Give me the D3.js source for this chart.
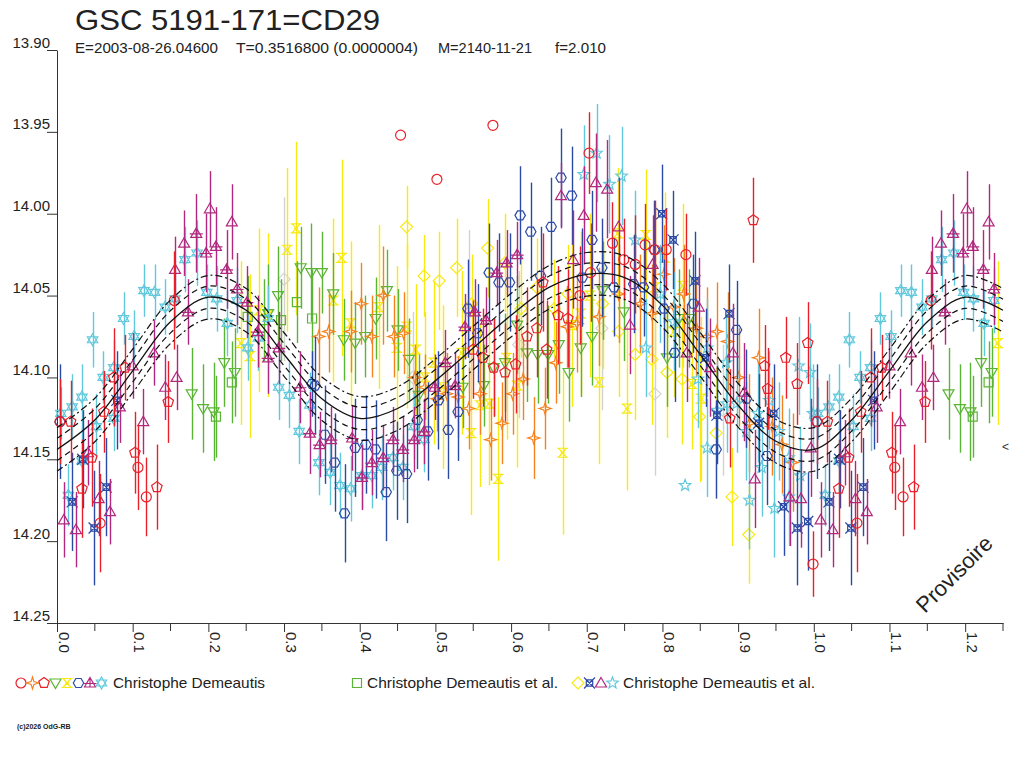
<!DOCTYPE html>
<html>
<head>
<meta charset="utf-8">
<script src="https://cdn.jsdelivr.net/npm/d3@7"></script>
<style>
  body{ margin:0; background:#fff; }
  svg{ display:block; }
</style>
</head>
<body>
<svg id="chart" width="1024" height="768"></svg>
<script>
/* ===== GSC 5191-171=CD29 — phase diagram (phase, mag, err) ===== */

const TITLE    = "GSC 5191-171=CD29";
const SUBTITLE = ["E=2003-08-26.04600", "T=0.3516800 (0.0000004)", "M=2140-11-21", "f=2.010"];
const LEGEND_LABELS = ["Christophe Demeautis", "Christophe Demeautis et al.", "Christophe Demeautis et al."];

const X_TICKS = [0.0,0.1,0.2,0.3,0.4,0.5,0.6,0.7,0.8,0.9,1.0,1.1,1.2];
const X_MINOR = [0.05,0.15,0.25,0.35,0.45,0.55,0.65,0.75,0.85,0.95,1.05,1.15,1.25];
const Y_TICKS = [13.90,13.95,14.00,14.05,14.10,14.15,14.20,14.25];

// fitted light curve (phase, mag) + envelope offsets
const FIT_CURVE = [
  [0.00,14.144],[0.05,14.126],[0.10,14.096],[0.15,14.066],[0.20,14.051],[0.25,14.059],
  [0.30,14.086],[0.35,14.113],[0.40,14.125],[0.45,14.119],[0.50,14.102],[0.55,14.082],
  [0.60,14.062],[0.65,14.045],[0.70,14.037],[0.75,14.039],[0.80,14.056],[0.85,14.086],
  [0.90,14.117],[0.95,14.139],[1.00,14.144]
];
const FIT_DASH_OFFSET    = 0.0068;
const FIT_DASHDOT_OFFSET = 0.0133;

/* ---------- observations: [phase, mag, err] ---------- */
// group 1 — Christophe Demeautis
const redCircle = [
  [0.004,14.127,0.026],[0.057,14.189,0.03],[0.107,14.155,0.026],[0.118,14.173,0.024],[0.155,14.053,0.03],
  [0.454,13.952,0],[0.502,13.979,0],[0.576,13.946,0],
  [0.691,14.050,0.03],[0.703,13.963,0.025],[0.705,14.036,0.03],[0.734,14.018,0.025],[0.749,14.028,0.025],
  [0.764,14.031,0.03],[0.777,14.019,0.025],[0.790,14.022,0.03],[0.805,14.022,0.025],[0.831,14.025,0.025],
  [0.999,14.214,0.02]
];
const orangeStar = [
  [0.346,14.075,0.03],[0.359,14.072,0.025],[0.388,14.072,0.025],[0.402,14.055,0.025],[0.416,14.075,0.025],
  [0.431,14.050,0.03],[0.445,14.075,0.025],[0.458,14.073,0.025],[0.473,14.100,0.02],[0.486,14.106,0.02],
  [0.502,14.113,0.02],[0.515,14.110,0.025],[0.530,14.112,0.025],[0.544,14.119,0.025],[0.559,14.110,0.025],
  [0.573,14.138,0.025],[0.588,14.128,0.025],[0.602,14.110,0.025],[0.616,14.101,0.025],[0.630,14.137,0.025],
  [0.645,14.119,0.025],[0.659,14.091,0.025],[0.674,14.069,0.025],[0.687,14.067,0.03],[0.716,14.063,0.03],
  [0.742,14.049,0.03],[0.771,14.055,0.03],[0.786,14.061,0.03],[0.802,14.037,0.03],[0.815,14.057,0.03],
  [0.828,14.049,0.03],[0.845,14.070,0.03],[0.859,14.075,0.03],[0.872,14.072,0.03],[0.886,14.078,0.03],
  [0.901,14.100,0.03],[0.915,14.128,0.03],[0.927,14.088,0.03],[0.945,14.130,0.03],[0.958,14.141,0.03],
  [0.972,14.152,0.03]
];
const redPentagon = [
  [0.018,14.127,0.025],[0.033,14.168,0.03],[0.046,14.149,0.03],[0.062,14.121,0.025],[0.075,14.100,0.03],
  [0.090,14.094,0.02],[0.103,14.146,0.025],[0.132,14.167,0.026],[0.147,14.115,0.025],
  [0.550,14.083,0.03],[0.563,14.088,0.03],[0.577,14.094,0.03],[0.592,14.097,0.03],[0.606,14.092,0.03],
  [0.621,14.075,0.03],[0.634,14.070,0.03],[0.642,14.042,0.03],[0.647,14.083,0.03],[0.662,14.062,0.03],
  [0.675,14.064,0.03],[0.889,14.125,0.03],[0.920,14.004,0.026],[0.935,14.093,0.025],[0.939,14.107,0.025],
  [0.963,14.088,0.025],[0.978,14.104,0.025],[0.992,14.079,0.025]
];
const greenTriDown = [
  [0.178,14.110,0.028],[0.193,14.119,0.027],[0.207,14.121,0.03],[0.221,14.091,0.027],[0.235,14.097,0.027],
  [0.279,14.061,0.03],[0.292,14.050,0.03],[0.322,14.033,0.025],[0.336,14.036,0.03],[0.350,14.036,0.025],
  [0.365,14.049,0.025],[0.379,14.077,0.025],[0.394,14.079,0.025],[0.407,14.075,0.025],[0.421,14.064,0.025],
  [0.436,14.047,0.025],[0.450,14.071,0.025],[0.465,14.089,0.025],[0.478,14.111,0.025],[0.536,14.106,0.025],
  [0.564,14.105,0.025],[0.577,14.094,0.03],[0.592,14.091,0.03],[0.608,14.068,0.03],[0.621,14.085,0.03],
  [0.635,14.086,0.03],[0.649,14.086,0.03],[0.663,14.080,0.03],[0.676,14.097,0.03],[0.692,14.082,0.03],
  [0.707,14.075,0.03],[0.721,14.047,0.03],[0.749,14.060,0.03],[0.806,14.088,0.03],[0.822,14.064,0.03],
  [0.835,14.064,0.03]
];
const yellowHourglass = [
  [0.243,14.079,0.05],[0.255,14.087,0.05],[0.267,14.059,0.05],[0.279,14.062,0.05],[0.304,14.022,0.05],
  [0.316,14.009,0.053],[0.365,14.053,0.05],[0.376,14.027,0.06],[0.388,14.067,0.05],[0.425,14.057,0.05],
  [0.449,14.082,0.05],[0.462,14.069,0.05],[0.474,14.083,0.04],[0.486,14.100,0.04],[0.498,14.091,0.05],
  [0.510,14.106,0.05],[0.535,14.085,0.05],[0.547,14.134,0.05],[0.559,14.117,0.05],[0.571,14.116,0.05],
  [0.583,14.162,0.05],[0.594,14.088,0.05],[0.608,14.105,0.05],[0.668,14.146,0.05],[0.680,14.068,0.05],
  [0.692,14.061,0.05],[0.704,14.050,0.05],[0.716,14.103,0.05],[0.741,14.012,0.04],[0.753,14.119,0.05],
  [0.778,14.013,0.04],[0.790,14.045,0.05],[0.803,14.027,0.04],[0.815,14.072,0.04],[0.827,14.044,0.05],
  [0.839,14.104,0.04],[0.851,14.113,0.05]
];
const blueHex = [
  [0.004,14.127,0.035],[0.337,14.104,0.02],[0.341,14.105,0.03],[0.354,14.135,0.03],[0.367,14.152,0.03],
  [0.380,14.183,0.03],[0.394,14.143,0.03],[0.408,14.141,0.03],[0.421,14.144,0.03],[0.435,14.170,0.03],
  [0.449,14.157,0.03],[0.462,14.159,0.03],[0.476,14.126,0.03],[0.490,14.133,0.03],[0.504,14.114,0.03],
  [0.517,14.132,0.03],[0.530,14.121,0.03],[0.543,14.058,0.03],[0.556,14.073,0.03],[0.571,14.036,0.03],
  [0.584,14.042,0.03],[0.598,14.042,0.03],[0.612,14.001,0.03],[0.626,14.011,0.03],[0.639,14.038,0.03],
  [0.653,14.008,0.03],[0.666,13.978,0.03],[0.680,13.989,0.03],[0.694,14.039,0.03],[0.707,14.016,0.03],
  [0.720,14.033,0.03],[0.736,14.045,0.03],[0.762,14.043,0.03],[0.775,14.045,0.03],[0.789,14.022,0.03],
  [0.802,14.058,0.03],[0.816,14.085,0.03],[0.841,14.055,0.03],[0.871,14.144,0.03],[0.898,14.071,0.03],
  [0.911,14.113,0.03],[0.938,14.148,0.03]
];
const magentaCross = [
  [0.173,14.060,0.02],[0.184,14.012,0.024],[0.197,14.024,0.024],[0.210,14.020,0.024],[0.224,14.034,0.024],
  [0.238,14.046,0.022],[0.251,14.054,0.022],[0.265,14.072,0.022],[0.279,14.088,0.022],[0.293,14.082,0.022],
  [0.321,14.106,0.022],[0.334,14.134,0.025],[0.347,14.141,0.02],[0.362,14.138,0.02],[0.390,14.137,0.02],
  [0.403,14.161,0.02],[0.416,14.152,0.02],[0.431,14.149,0.02],[0.444,14.138,0.02],[0.457,14.144,0.02],
  [0.472,14.138,0.02],[0.485,14.133,0.02],[0.499,14.106,0.02],[0.513,14.091,0.02],[0.526,14.105,0.02],
  [0.539,14.069,0.02],[0.552,14.060,0.02],[0.567,14.065,0.02],[0.581,14.036,0.02],[0.594,14.030,0.02],
  [0.608,14.025,0.02]
];
const cyanHexagram = [
  [0.005,14.122,0.016],[0.015,14.172,0.019],[0.020,14.118,0.02],[0.033,14.112,0.02],[0.033,14.151,0.02],
  [0.047,14.077,0.017],[0.052,14.130,0.02],[0.061,14.100,0.016],[0.075,14.094,0.017],[0.075,14.125,0.02],
  [0.088,14.064,0.016],[0.102,14.075,0.016],[0.115,14.047,0.016],[0.129,14.048,0.017],[0.143,14.057,0.017],
  [0.156,14.052,0.018],[0.169,14.028,0.02],[0.185,14.024,0.02],[0.198,14.048,0.017],[0.211,14.052,0.02],
  [0.225,14.067,0.02],[0.238,14.053,0.02],[0.252,14.082,0.02],[0.266,14.076,0.02],[0.279,14.064,0.02],
  [0.293,14.106,0.02],[0.307,14.111,0.02],[0.320,14.133,0.02],[0.334,14.117,0.02],[0.346,14.152,0.02],
  [0.361,14.158,0.02],[0.374,14.166,0.02],[0.388,14.168,0.02],[0.403,14.160,0.02],[0.416,14.160,0.02],
  [0.429,14.155,0.02],[0.444,14.149,0.02],[0.457,14.155,0.02],[0.472,14.130,0.02],[0.485,14.138,0.02]
];
// group 2 — Christophe Demeautis et al.
const greenSquare = [
  [0.210,14.124,0.025],[0.231,14.103,0.025],[0.252,14.063,0.025],[0.273,14.065,0.025],[0.296,14.065,0.025],
  [0.317,14.054,0.025],[0.337,14.064,0.03]
];
// group 3 — Christophe Demeautis et al.
const yellowDiamond = [
  [0.462,14.008,0.025],[0.485,14.038,0.025],[0.505,14.041,0.03],[0.528,14.033,0.03],[0.548,14.055,0.03],
  [0.569,14.021,0.03],[0.592,14.030,0.03],[0.613,14.058,0.03],[0.634,14.045,0.03],[0.657,14.058,0.03],
  [0.675,14.049,0.03],[0.721,14.055,0.04],[0.742,14.072,0.04],[0.764,14.086,0.04],[0.786,14.089,0.04],
  [0.806,14.097,0.04],[0.826,14.101,0.04],[0.849,14.124,0.04],[0.871,14.134,0.04],[0.892,14.173,0.03],
  [0.914,14.196,0.03]
];
const blueXSquare = [
  [0.020,14.176,0.03],[0.034,14.150,0.03],[0.049,14.192,0.035],[0.065,14.167,0.03],[0.079,14.114,0.03],
  [0.799,14.000,0.03],[0.814,14.016,0.03],[0.843,14.041,0.03],[0.857,14.088,0.03],[0.872,14.123,0.03],
  [0.888,14.061,0.03],[0.927,14.128,0.03],[0.947,14.122,0.03],[0.960,14.179,0.03],[0.978,14.192,0.035],
  [0.992,14.188,0.03]
];
const magentaTriangle = [
  [0.009,14.187,0.023],[0.025,14.193,0.023],[0.041,14.146,0.02],[0.055,14.174,0.023],[0.070,14.182,0.02],
  [0.083,14.118,0.022],[0.100,14.093,0.02],[0.114,14.127,0.02],[0.128,14.085,0.02],[0.143,14.106,0.02],
  [0.156,14.034,0.02],[0.158,14.100,0.02],[0.168,14.018,0.02],[0.202,13.997,0.023],[0.231,14.005,0.023],
  [0.666,13.989,0.02],[0.682,14.028,0.03],[0.696,14.001,0.03],[0.712,13.981,0.03],[0.727,13.985,0.03],
  [0.742,14.008,0.03],[0.757,14.068,0.03],[0.787,14.031,0.03],[0.832,14.085,0.03],[0.848,14.057,0.03],
  [0.863,14.094,0.03],[0.893,14.085,0.03],[0.908,14.109,0.03],[0.922,14.162,0.03],[0.968,14.173,0.03],
  [0.983,14.174,0.03],[0.996,14.143,0.03]
];
const cyanStar = [
  [0.696,13.976,0.03],[0.713,13.963,0.03],[0.730,13.982,0.03],[0.746,13.977,0.03],[0.764,14.016,0.03],
  [0.778,14.082,0.03],[0.797,14.049,0.03],[0.815,14.066,0.03],[0.830,14.166,0],[0.847,14.101,0.03],
  [0.859,14.082,0.03],[0.859,14.143,0.03],[0.872,14.120,0.03],[0.884,14.091,0.03],[0.885,14.116,0.03],
  [0.898,14.116,0.03],[0.911,14.133,0.03],[0.915,14.175,0.03],[0.926,14.122,0.03],[0.931,14.155,0.03],
  [0.941,14.114,0.03],[0.948,14.180,0.03],[0.954,14.133,0.03],[0.967,14.149,0.03],[0.967,14.173,0.03],
  [0.980,14.093,0.03],[0.982,14.160,0.03],[0.995,14.097,0.03],[0.999,14.122,0.03]
];
const greyBars = [
  [0.300,14.040,0.05],[0.470,14.100,0.04],[0.545,14.060,0.05],[0.610,14.080,0.045],
  [0.720,14.070,0.05],[0.790,14.110,0.05],[0.880,14.120,0.04]
];

/* ---------- series table ---------- */
const C = {
  red:"#e8202a", orange:"#f5821f", green:"#5ab534", yellow:"#f8ea10",
  blue:"#2b4aa6", magenta:"#b2287f", cyan:"#62c9dd", grey:"#d2d2d2"
};
const SERIES = [
  { data: greyBars,        color: C.grey,    shape: "diamond"   },
  { data: yellowHourglass, color: C.yellow,  shape: "hourglass" },
  { data: yellowDiamond,   color: C.yellow,  shape: "diamond"   },
  { data: greenTriDown,    color: C.green,   shape: "triDown"   },
  { data: greenSquare,     color: C.green,   shape: "square"    },
  { data: orangeStar,      color: C.orange,  shape: "star4"     },
  { data: cyanHexagram,    color: C.cyan,    shape: "hexagram"  },
  { data: cyanStar,        color: C.cyan,    shape: "star5"     },
  { data: blueHex,         color: C.blue,    shape: "hexagon"   },
  { data: blueXSquare,     color: C.blue,    shape: "xsquare"   },
  { data: magentaCross,    color: C.magenta, shape: "triCross"  },
  { data: magentaTriangle, color: C.magenta, shape: "triUp"     },
  { data: redPentagon,     color: C.red,     shape: "pentagon"  },
  { data: redCircle,       color: C.red,     shape: "circle"    }
];
const LEGEND_GROUP1 = [
  ["circle",C.red],["star4",C.orange],["pentagon",C.red],["triDown",C.green],
  ["hourglass",C.yellow],["hexagon",C.blue],["triCross",C.magenta],["hexagram",C.cyan]
];
const LEGEND_GROUP2 = [["square",C.green]];
const LEGEND_GROUP3 = [["diamond",C.yellow],["xsquare",C.blue],["triUp",C.magenta],["star5",C.cyan]];

/* ---------- layout ---------- */
const W = 1024, H = 768;
const PLOT = { left:57, right:1003, top:50, bottom:623 };
const FONT = "'Liberation Sans', Arial, Helvetica, sans-serif";
const INK = "#222";

const x = d3.scaleLinear().domain([0, 1.25]).range([PLOT.left, PLOT.right]);
const y = d3.scaleLinear().domain([13.90, 14.25]).range([PLOT.top, PLOT.bottom]);

const svg = d3.select("#chart").attr("font-family", FONT);
svg.append("rect").attr("width",W).attr("height",H).attr("fill","#fff");

/* ---------- marker shapes ---------- */
function poly(n, r, rot){
  const pts = d3.range(n).map(i => {
    const a = rot + i * 2 * Math.PI / n;
    return [r * Math.cos(a), r * Math.sin(a)];
  });
  return "M" + pts.map(p => p[0].toFixed(2) + "," + p[1].toFixed(2)).join("L") + "Z";
}
function starPath(n, ro, ri, rot){
  const pts = d3.range(2*n).map(i => {
    const a = rot + i * Math.PI / n, r = i % 2 ? ri : ro;
    return [r * Math.cos(a), r * Math.sin(a)];
  });
  return "M" + pts.map(p => p[0].toFixed(2) + "," + p[1].toFixed(2)).join("L") + "Z";
}
const UP = -Math.PI / 2;
const SHAPES = {
  circle:   "M5,0A5,5 0 1,1 -5,0A5,5 0 1,1 5,0Z",
  pentagon: poly(5, 5.5, UP),
  hexagon:  poly(6, 5.2, 0),
  triUp:    "M0,-5.5L5.5,4L-5.5,4Z",
  triDown:  "M-5.5,-4L5.5,-4L0,5.5Z",
  triCross: "M0,-5.5L5.5,4L-5.5,4Z M-6.5,0.5L6.5,0.5 M0,-5.5L0,4",
  square:   "M-4.5,-4.5H4.5V4.5H-4.5Z",
  diamond:  "M0,-6L6,0L0,6L-6,0Z",
  star4:    starPath(4, 6, 2, UP),
  star5:    starPath(5, 6, 2.6, UP),
  hexagram: "M0,-6L5.2,3L-5.2,3Z M0,6L5.2,-3L-5.2,-3Z",
  hourglass:"M-5.5,-4.5H5.5 M-5.5,4.5H5.5 M-4,-4.5L4,4.5 M4,-4.5L-4,4.5 M-2,0H2",
  xsquare:  "M-3.2,-3.2H3.2V3.2H-3.2Z M-5.5,-5.5L5.5,5.5 M5.5,-5.5L-5.5,5.5"
};

function drawMarker(g, shape, color, cx, cy){
  g.append("path").attr("d", SHAPES[shape])
    .attr("transform", `translate(${cx},${cy})`)
    .attr("fill","none").attr("stroke", color).attr("stroke-width", 1.2);
}

/* ---------- axes ---------- */
const yAxis = d3.axisLeft(y).tickValues(Y_TICKS).tickSize(10).tickSizeOuter(0)
  .tickFormat(d3.format(".2f"));
const gy = svg.append("g").attr("transform",`translate(${PLOT.left},0)`).call(yAxis);
gy.selectAll("path,line").attr("stroke","#333");
gy.selectAll("text").attr("x",-7).attr("dy",-3).attr("fill",INK)
  .attr("font-size",15).attr("font-family",FONT);

const xAxis = d3.axisBottom(x).tickValues(X_TICKS).tickSize(9).tickSizeOuter(0)
  .tickFormat(d3.format(".1f"));
const gx = svg.append("g").attr("transform",`translate(0,${PLOT.bottom})`).call(xAxis);
gx.selectAll("path,line").attr("stroke","#333");
gx.selectAll("text")
  .attr("transform","rotate(90)").attr("x",9).attr("y",-1).attr("dy",0)
  .style("text-anchor","start").attr("fill",INK).attr("font-size",15).attr("font-family",FONT);
gx.selectAll(".minor").data(X_MINOR).join("line").attr("class","minor")
  .attr("x1",d=>x(d)).attr("x2",d=>x(d)).attr("y1",0).attr("y2",8).attr("stroke","#333");

/* ---------- observations ---------- */
const plotG = svg.append("g");
SERIES.forEach(s => {
  const pts = s.data.concat(s.data.filter(d => d[0] <= 0.25).map(d => [d[0] + 1, d[1], d[2]]));
  const g = plotG.append("g");
  g.selectAll("line").data(pts.filter(d => d[2] > 0)).join("line")
    .attr("x1", d => Math.round(x(d[0])) + 0.5).attr("x2", d => Math.round(x(d[0])) + 0.5)
    .attr("y1", d => y(d[1] - d[2])).attr("y2", d => y(d[1] + d[2]))
    .attr("stroke", s.color).attr("stroke-width", 1.4);
  pts.forEach(d => drawMarker(g, s.shape, s.color, x(d[0]), y(d[1])));
});

/* ---------- fitted curve + envelopes ---------- */
const fitPts = FIT_CURVE.concat(FIT_CURVE.filter(d => d[0] > 0 && d[0] <= 0.25).map(d => [d[0] + 1, d[1]]));
const fitLine = off => d3.line().x(d => x(d[0])).y(d => y(d[1] + off)).curve(d3.curveCatmullRom)(fitPts);
const fitG = svg.append("g").attr("fill","none").attr("stroke","#111");
fitG.append("path").attr("d", fitLine(0)).attr("stroke-width",1.3);
[-FIT_DASH_OFFSET, FIT_DASH_OFFSET].forEach(o =>
  fitG.append("path").attr("d", fitLine(o)).attr("stroke-width",1.2).attr("stroke-dasharray","6,4"));
[-FIT_DASHDOT_OFFSET, FIT_DASHDOT_OFFSET].forEach(o =>
  fitG.append("path").attr("d", fitLine(o)).attr("stroke-width",1.2).attr("stroke-dasharray","7,3,2,3"));

/* ---------- titles ---------- */
svg.append("text").attr("x",75).attr("y",30).attr("font-size",29).attr("fill",INK)
  .attr("textLength",305).attr("lengthAdjust","spacingAndGlyphs").text(TITLE);
const SUB_X = [75, 236, 438, 555], SUB_W = [143, 182, 94, 51];
SUBTITLE.forEach((t,i) => svg.append("text").attr("x",SUB_X[i]).attr("y",53)
  .attr("font-size",14.5).attr("fill",INK)
  .attr("textLength",SUB_W[i]).attr("lengthAdjust","spacingAndGlyphs").text(t));

/* ---------- legend ---------- */
const LEG_Y = 683;
const legG = svg.append("g");
LEGEND_GROUP1.forEach((m,i) => drawMarker(legG, m[0], m[1], 21 + i * 11.5, LEG_Y));
LEGEND_GROUP2.forEach((m,i) => drawMarker(legG, m[0], m[1], 357 + i * 11.5, LEG_Y));
LEGEND_GROUP3.forEach((m,i) => drawMarker(legG, m[0], m[1], 578 + i * 11.5, LEG_Y));
[[113,152],[367,191],[623,192]].forEach((p,i) =>
  legG.append("text").attr("x",p[0]).attr("y",LEG_Y + 5).attr("font-size",15).attr("fill",INK)
    .attr("textLength",p[1]).attr("lengthAdjust","spacingAndGlyphs").text(LEGEND_LABELS[i]));

/* ---------- misc ---------- */
svg.append("text").attr("x",17).attr("y",729).attr("font-size",7).attr("font-weight",700)
  .attr("fill",INK).text("(c)2026 OdG-RB");
svg.append("text").attr("transform","translate(925,614) rotate(-45)")
  .attr("font-size",22).attr("fill",INK).text("Provisoire");
svg.append("text").attr("x",1002).attr("y",451).attr("font-size",12).attr("fill","#333").text("<");
</script>
</body>
</html>
